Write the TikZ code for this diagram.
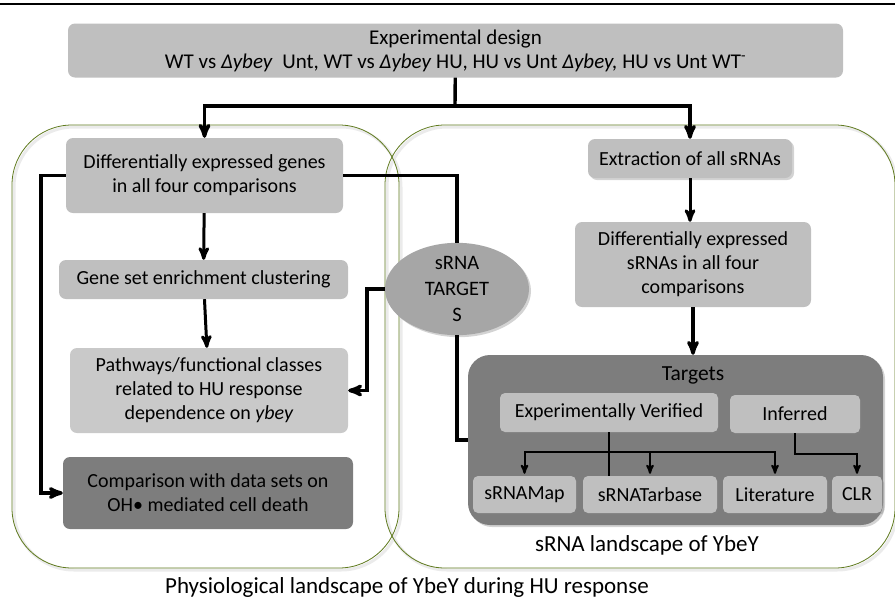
\documentclass[tikz,border=0pt]{standalone}
\usepackage{fontspec}
\setmainfont{Carlito}
\usepackage{tikz}
\usetikzlibrary{calc,arrows,positioning,shapes.geometric,shadows}
\definecolor{boxgrey}{HTML}{BFBFBF}
\definecolor{palegrey}{HTML}{C9C9C9}
\definecolor{darkgrey}{HTML}{7D7D7D}
\definecolor{midgrey}{HTML}{A6A6A6}
\definecolor{framegreen}{HTML}{5F7A1E}
\tikzset{
>=stealth',
  stage/.style={
    rectangle,
    rounded corners=7pt,
    fill=boxgrey,
    inner sep=0pt,
    align=center,
    font=\fontsize{20}{24}\selectfont},
  shadowed/.style={
    drop shadow={shadow xshift=2pt, shadow yshift=-2pt, opacity=0.35}},
  leaf/.style={stage, rounded corners=5pt, shadowed},
  bubble/.style={
    ellipse,
    fill=midgrey,
    inner sep=0pt,
    align=center,
    font=\fontsize{20.5}{26}\selectfont},
  landscape/.style={draw=framegreen, line width=0.8pt, rounded corners=60pt},
  landshadow/.style={draw=black!8, line width=3pt, rounded corners=60pt},
  caption/.style={font=\fontsize{23}{26}\selectfont},
  line/.style={draw, line width=3.4pt},
  midline/.style={draw, line width=3pt},
  thinline/.style={draw, line width=2pt, shorten >=2pt},
}
\begin{document}
\begin{tikzpicture}[x=1pt,y=-1pt]

		\useasboundingbox (0,0) rectangle (895,598);
		\draw[line width=2.5pt] (0,4) -- (895,4);

		% the two landscapes
		\draw[landshadow] (14,127) rectangle (401,570);
		\draw[landshadow] (387,127) rectangle (897,570);
		\draw[landscape] (12,125) rectangle (399,568);
		\draw[landscape] (385,125) rectangle (895,568);

		\node[stage, font=\fontsize{21}{24}\selectfont, minimum width=775pt, minimum height=54pt] (design) at (455.5,50.5)
			{Experimental design\\WT vs \textit{Δybey}\ \ Unt, WT vs \textit{Δybey} HU, HU vs Unt \textit{Δybey,} HU vs Unt WT\textsuperscript{-}};

		% physiological side
		\node[stage, minimum width=277pt, minimum height=75pt] (degenes) at (204.5,175.5)
			{Differentially expressed genes\\in all four comparisons};
		\node[stage, minimum width=289pt, minimum height=39pt] (geneset) at (203.5,279.5)
			{Gene set enrichment clustering};
		\node[stage, fill=palegrey, minimum width=278pt, minimum height=85pt] (pathways) at (209,390.5)
			{Pathways/functional classes\\related to HU response\\dependence on \textit{ybey}};
		\node[stage, fill=darkgrey, minimum width=290pt, minimum height=72pt] (comparison) at (208,493)
			{Comparison with data sets on\\OH\textbullet{} mediated cell death};

		\node[bubble, minimum width=144pt, minimum height=82pt, shadowed] (targetbubble) at (457,289)
			{sRNA\\TARGET\\S};

		% sRNA side
		\node[stage, shadowed, minimum width=204pt, minimum height=39pt] (extraction) at (690,158.5)
			{Extraction of all sRNAs};
		\node[stage, minimum width=236pt, minimum height=85pt] (desrna) at (693,264.5)
			{Differentially expressed\\sRNAs in all four\\comparisons};
		\node[stage, fill=darkgrey, rounded corners=22pt, shadowed, minimum width=415pt, minimum height=170pt] (targets) at (675.5,440) {};
		\node[caption, font=\fontsize{21.5}{24}\selectfont] (targetslabel) at (693,375) {Targets};
		\node[leaf, minimum width=218pt, minimum height=39pt] (verified) at (609,412.5) {Experimentally Verified};
		\node[leaf, minimum width=130pt, minimum height=38pt] (inferred) at (795,414) {Inferred};
		\node[leaf, minimum width=103pt, minimum height=37pt] (srnamap) at (524.5,494.5) {sRNAMap};
		\node[leaf, minimum width=134pt, minimum height=37pt] (tarbase) at (650,494.5) {sRNATarbase};
		\node[leaf, minimum width=104pt, minimum height=37pt] (literature) at (775,494.5) {Literature};
		\node[leaf, minimum width=50pt, minimum height=37pt] (clr) at (857,494.5) {CLR};

		\node[caption] (srnaland) at (647,545) {sRNA landscape of YbeY};
		\node[caption] (physland) at (407,587) {Physiological landscape of YbeY during HU response};

		% connectors
		\coordinate (split) at (455,106);
		\coordinate (leftrail) at (41,0);
		\coordinate (midrail) at (367,0);
		\draw[line] (design) -- (split);
		\draw[line,->] (split) -| (degenes.north);
		\draw[line,->] (split) -| (extraction.north);

		\draw[midline,->] (degenes) -- (geneset);
		\draw[midline,->] (geneset) -- (pathways);
		\draw[line,->] (degenes.west) -| (leftrail |- comparison.west) -- (comparison.west);
		\draw[line] (degenes.east) -| (targetbubble.north);
		\draw[line] (targetbubble.south) |- (targets.west);
		\draw[line,->] (targetbubble.west) -| (midrail |- pathways.east) -- (pathways.east);

		\draw[midline,->] (extraction) -- (extraction.south |- desrna.north);
		\draw[line,->] (desrna.south) -- (desrna.south |- targets.north);

		\coordinate (vsplit) at ($(verified.south)+(0,20)$);
		\coordinate (isplit) at ($(inferred.south)+(0,21)$);
		\draw[thinline, shorten >=0pt] (verified.south) -- (verified.south |- tarbase.north);
		\draw[thinline,->] (vsplit) -| (srnamap.north);
		\draw[thinline,->] (vsplit) -| (literature.north);
		\draw[thinline,->] (vsplit -| tarbase.north) -- (tarbase.north);
		\draw[thinline,->] (inferred.south) -- (isplit) -| (clr.north);

	\end{tikzpicture}
\end{document}
